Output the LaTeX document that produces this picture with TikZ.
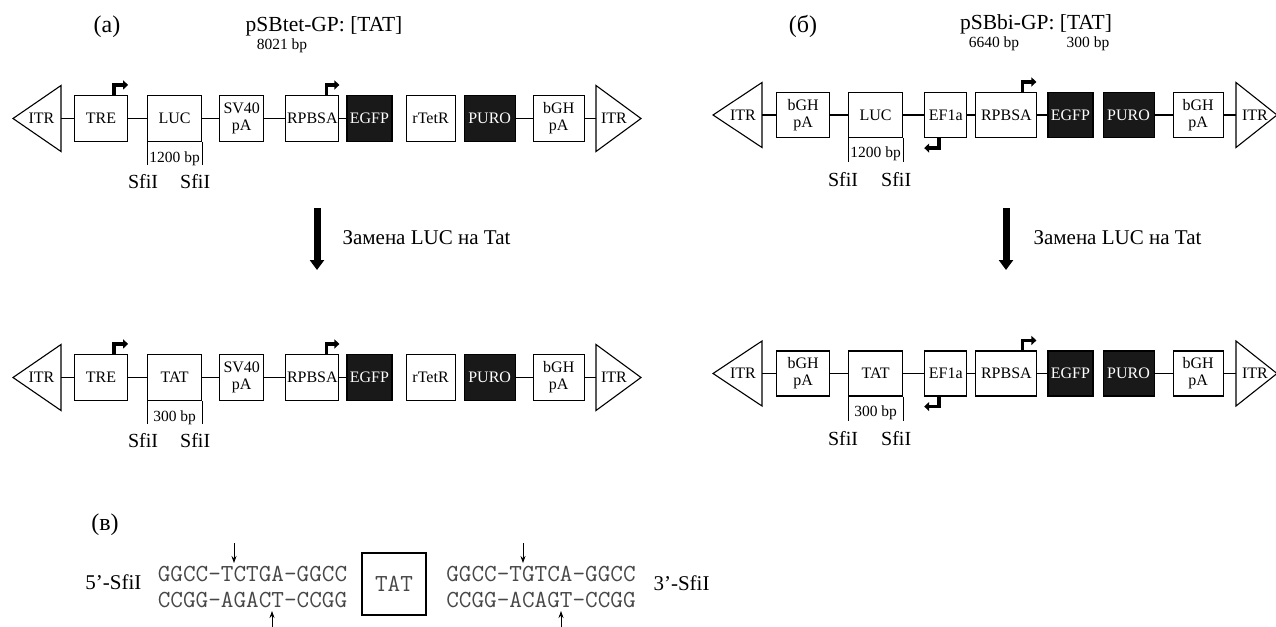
\documentclass[tikz,border=0pt]{standalone}
\usepackage{fontspec}
\setmainfont{Liberation Serif}
\usetikzlibrary{arrows.meta,positioning,calc}

\begin{document}
\begin{tikzpicture}[
    x=1pt, y=-1pt,
    font=\fontsize{16}{17}\selectfont,
    part/.style={draw, line width=1.1pt, minimum width=#1, minimum height=46pt,
      inner sep=0pt, anchor=west, align=center},
    part/.default=50pt,
    marker/.style={part=#1, fill=black!90, text=white},
    itr/.style={draw, line width=1.1pt},
    link/.style={line width=1.1pt},
    promoter/.style={-{Triangle[length=5pt,width=9pt]}, line width=3.5pt},
    bracket/.style={line width=1.1pt},
    size/.style={font=\fontsize{15.5}{16}\selectfont},
    site/.style={font=\fontsize{20}{20}\selectfont},
    panel/.style={font=\fontsize{24}{24}\selectfont, anchor=base},
    title/.style={font=\fontsize{21.5}{22}\selectfont, anchor=base},
    swap/.style={-{Triangle[length=10pt,width=14pt]}, line width=7pt},
    note/.style={font=\fontsize{21}{22}\selectfont, anchor=west},
    seq/.style={font=\ttfamily\fontsize{24.5}{25}\selectfont, text=black!72},
    ends/.style={font=\fontsize{21}{22}\selectfont},
    cut/.style={-{Stealth[length=7pt,width=5pt]}, line width=0.8pt}
  ]
    \useasboundingbox (0,0) rectangle (1276,626);

    % (a) pSBtet-GP
    \node[panel] (pa) at (107,33) {(а)};
    \node[title] (ta) at (324,32) {pSBtet-GP: [TAT]};
    \node[size, anchor=base] (la) at (282,49) {8021 bp};

    \foreach \rw/\yc/\cargo/\cargolen in {1/118.5/LUC/1200 bp, 2/377.5/TAT/300 bp}{
      \draw[itr] (61,\yc-33) -- (13,\yc) -- (61,\yc+33) -- cycle;
      \coordinate (itrab\rw) at (61,\yc);
      \node (itra\rw) at (41.5,\yc) {ITR};
      \node[part=53pt] (tre\rw) at (74,\yc) {TRE};
      \node[part=54pt, right=19pt of tre\rw] (cara\rw) {\cargo};
      \node[part=44pt, right=17pt of cara\rw] (sv\rw) {SV40\\pA};
      \node[part=53pt, right=21pt of sv\rw] (rpba\rw) {RPBSA};
      \node[marker=45pt, right=7pt of rpba\rw] (egfpa\rw) {EGFP};
      \node[part=49pt, right=13pt of egfpa\rw] (tetr\rw) {rTetR};
      \node[marker=51pt, right=8pt of tetr\rw] (puroa\rw) {PURO};
      \node[part=51pt, right=17pt of puroa\rw] (bgha\rw) {bGH\\pA};
      \draw[itr] (596,\yc-33) -- (641,\yc) -- (596,\yc+33) -- cycle;
      \coordinate (itrzb\rw) at (596,\yc);
      \node (itrz\rw) at (614,\yc) {ITR};

      \draw[link] (itrab\rw) -- (tre\rw) (tre\rw) -- (cara\rw) (cara\rw) -- (sv\rw)
        (sv\rw) -- (rpba\rw) (rpba\rw) -- (egfpa\rw) (puroa\rw) -- (bgha\rw)
        (bgha\rw) -- (itrzb\rw);
      \draw[promoter] ([xshift=-14pt]tre\rw.north east) -- ++(0,-10) -- ++(14,0);
      \draw[promoter] ([xshift=-13pt]rpba\rw.north east) -- ++(0,-10) -- ++(13,0);

      \draw[bracket] (cara\rw.south west) -- ++(0,23);
      \draw[bracket] (cara\rw.south east) -- ++(0,23);
      \node[size] (lena\rw) at ([yshift=-17pt]cara\rw.south) {\cargolen};
      \node[site] (sfia\rw) at ([xshift=-4pt,yshift=-40pt]cara\rw.south west) {SfiI};
      \node[site] (sfiza\rw) at ([xshift=-7pt,yshift=-40pt]cara\rw.south east) {SfiI};
    }

    % (b) pSBbi-GP
    \node[panel] (pb) at (803,33) {(б)};
    \node[title] (tb) at (1036,30) {pSBbi-GP: [TAT]};
    \node[size, anchor=base] (lb) at (994,48) {6640 bp};
    \node[size, anchor=base] (lt) at (1088,48) {300 bp};

    \foreach \rw/\yc/\cargo/\cargolen in {1/115/LUC/1200 bp, 2/373.5/TAT/300 bp}{
      \draw[itr] (762,\yc-32.5) -- (713,\yc) -- (762,\yc+32.5) -- cycle;
      \coordinate (itrbb\rw) at (762,\yc);
      \node (itrb\rw) at (743,\yc) {ITR};
      \node[part=53pt, minimum height=45pt] (bghl\rw) at (776,\yc) {bGH\\pA};
      \node[part=54pt, minimum height=45pt, right=18pt of bghl\rw] (carb\rw) {\cargo};
      \node[part=42pt, minimum height=45pt, right=21pt of carb\rw] (ef\rw) {EF1a};
      \node[part=61pt, minimum height=45pt, right=8pt of ef\rw] (rpbb\rw) {RPBSA};
      \node[marker=45pt, minimum height=45pt, right=10pt of rpbb\rw] (egfpb\rw) {EGFP};
      \node[marker=51pt, minimum height=45pt, right=9pt of egfpb\rw] (purob\rw) {PURO};
      \node[part=50pt, minimum height=45pt, right=18pt of purob\rw] (bghr\rw) {bGH\\pA};
      \draw[itr] (1236,\yc-32.5) -- (1277,\yc) -- (1236,\yc+32.5) -- cycle;
      \coordinate (itryb\rw) at (1236,\yc);
      \node (itry\rw) at (1255,\yc) {ITR};

      \draw[link] (itrbb\rw) -- (bghl\rw) (bghl\rw) -- (carb\rw) (carb\rw) -- (ef\rw)
        (ef\rw) -- (rpbb\rw) (rpbb\rw) -- (egfpb\rw) (purob\rw) -- (bghr\rw)
        (bghr\rw) -- (itryb\rw);
      \draw[promoter] ([xshift=15pt]ef\rw.south west) -- ++(0,10) -- ++(-15,0);
      \draw[promoter] ([xshift=-15pt]rpbb\rw.north east) -- ++(0,-10) -- ++(14,0);

      \draw[bracket] (carb\rw.south west) -- ++(0,24);
      \draw[bracket] (carb\rw.south east) -- ++(0,24);
      \node[size] (lenb\rw) at ([yshift=-16pt]carb\rw.south) {\cargolen};
      \node[site] (sfib\rw) at ([xshift=-5pt,yshift=-42pt]carb\rw.south west) {SfiI};
      \node[site] (sfizb\rw) at ([xshift=-7pt,yshift=-42pt]carb\rw.south east) {SfiI};
    }

    % replacement arrows
    \coordinate (swapa) at (317,208);
    \coordinate (swapaend) at (317,270);
    \draw[swap] (swapa) -- (swapaend);
    \node[note] (notea) at (339,238) {Замена LUC на Tat};
    \coordinate (swapb) at (1006,208);
    \coordinate (swapbend) at (1006,270);
    \draw[swap] (swapb) -- (swapbend);
    \node[note] (noteb) at (1030,238) {Замена LUC на Tat};

    % (c) SfiI sites
    \node[panel] (pc) at (105,530) {(в)};
    \node[ends, anchor=base east] (five) at (145,589) {5'-SfiI};
    \node[seq, anchor=base] (topl) at (252.5,581) {GGCC-TCTGA-GGCC};
    \node[seq, anchor=base] (botl) at (252.5,607) {CCGG-AGACT-CCGG};
    \node[seq, draw=black, line width=1.1pt, minimum width=64pt, minimum height=62pt,
      inner sep=0pt] (tat) at (394,584) {TAT};
    \node[seq, anchor=base] (topr) at (541,581) {GGCC-TGTCA-GGCC};
    \node[seq, anchor=base] (botr) at (541,607) {CCGG-ACAGT-CCGG};
    \node[ends, anchor=base west] (three) at (650,590) {3'-SfiI};

    \coordinate (cut1) at (234,543);
    \coordinate (cut1end) at (234,563);
    \coordinate (cut2) at (523,543);
    \coordinate (cut2end) at (523,563);
    \coordinate (cut3) at (272,628);
    \coordinate (cut3end) at (272,611);
    \coordinate (cut4) at (561,628);
    \coordinate (cut4end) at (561,611);
    \draw[cut] (cut1) -- (cut1end);
    \draw[cut] (cut2) -- (cut2end);
    \draw[cut] (cut3) -- (cut3end);
    \draw[cut] (cut4) -- (cut4end);
  \end{tikzpicture}
\end{document}
